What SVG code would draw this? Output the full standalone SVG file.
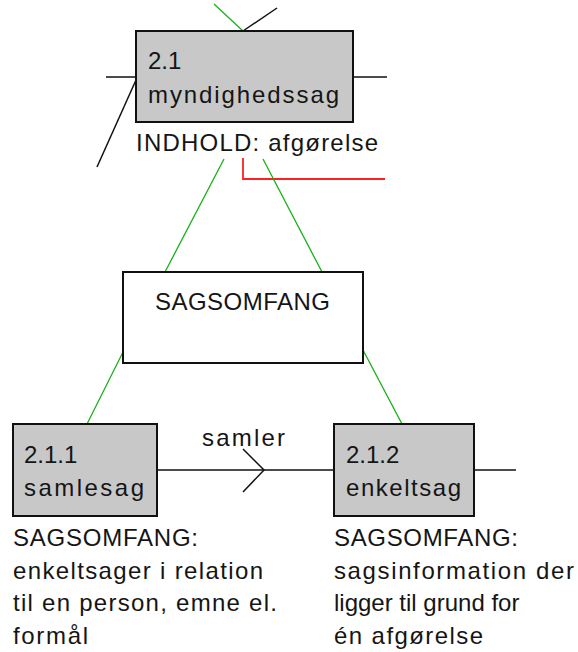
<svg xmlns="http://www.w3.org/2000/svg" width="578" height="652" viewBox="0 0 578 652">
<style>
text{font-family:"Liberation Sans",Arial,sans-serif;font-size:24px;fill:#151515}
.ent{fill:#c8c8c8;stroke:#111;stroke-width:2}
.box{fill:#fff;stroke:#111;stroke-width:2}
.g{stroke:#17b017;stroke-width:1.3;fill:none}
.k{stroke:#111;stroke-width:1.5;fill:none}
.r{stroke:#ff2020;stroke-width:1.8;fill:none}
</style>
<rect width="578" height="652" fill="#fff"/>
<g id="connectors">
<line class="g" x1="214" y1="4" x2="243" y2="31"/>
<line class="k" x1="243" y1="31" x2="277" y2="8"/>
<line class="k" x1="106" y1="77" x2="136" y2="77"/>
<line class="k" x1="353" y1="77" x2="387" y2="77"/>
<line class="k" x1="136" y1="80" x2="97" y2="167" stroke-width="1.2"/>
<polyline class="r" points="243,158 243,179 385,179"/>
<line class="g" x1="224" y1="159" x2="165" y2="272"/>
<line class="g" x1="263" y1="159" x2="322" y2="272"/>
<line class="g" x1="123" y1="352" x2="87" y2="424"/>
<line class="g" x1="363" y1="350" x2="402" y2="424"/>
<line class="k" x1="157" y1="470" x2="334" y2="470"/>
<polyline class="k" points="243,449 264,470 243,492"/>
<line class="k" x1="474" y1="470" x2="516" y2="470"/>
<text x="202" y="446" textLength="83" lengthAdjust="spacing">samler</text>
</g>
<g id="node-2-1">
<rect class="ent" x="136" y="31" width="217" height="91"/>
<text x="148" y="69">2.1</text>
<text x="148" y="103" textLength="191" lengthAdjust="spacing">myndighedssag</text>
<text x="136" y="151" textLength="242" lengthAdjust="spacing">INDHOLD: afgørelse</text>
</g>
<g id="node-sagsomfang">
<rect class="box" x="123" y="272" width="240" height="91"/>
<text x="155" y="310" textLength="175" lengthAdjust="spacing">SAGSOMFANG</text>
</g>
<g id="node-2-1-1">
<rect class="ent" x="13" y="424" width="144" height="92"/>
<text x="24" y="463">2.1.1</text>
<text x="24" y="496" textLength="120" lengthAdjust="spacing">samlesag</text>
<text x="13" y="546" textLength="185" lengthAdjust="spacing">SAGSOMFANG:</text>
<text x="13" y="579" textLength="250" lengthAdjust="spacing">enkeltsager i relation</text>
<text x="13" y="611" textLength="264" lengthAdjust="spacing">til en person, emne el.</text>
<text x="13" y="644" textLength="75" lengthAdjust="spacing">formål</text>
</g>
<g id="node-2-1-2">
<rect class="ent" x="334" y="424" width="140" height="92"/>
<text x="346" y="463">2.1.2</text>
<text x="346" y="496" textLength="115" lengthAdjust="spacing">enkeltsag</text>
<text x="334" y="546" textLength="184" lengthAdjust="spacing">SAGSOMFANG:</text>
<text x="334" y="579" textLength="240" lengthAdjust="spacing">sagsinformation der</text>
<text x="334" y="611">ligger til grund for</text>
<text x="334" y="644" textLength="149" lengthAdjust="spacing">én afgørelse</text>
</g>
</svg>
